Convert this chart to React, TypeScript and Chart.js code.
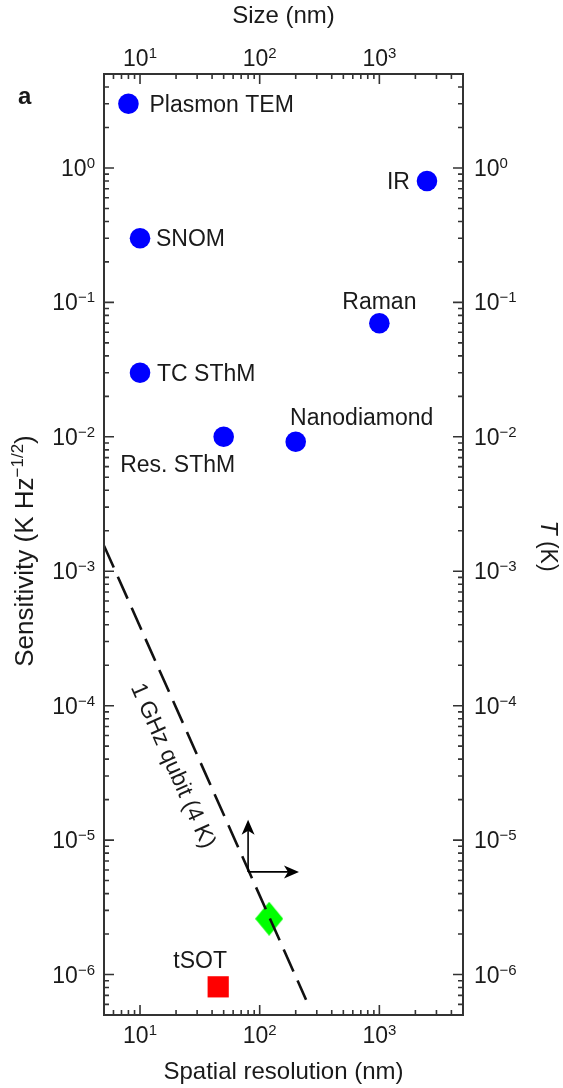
import React, { useEffect, useRef } from "react";
import { Chart, registerables } from "chart.js";

Chart.register(...registerables);

// ---- data ----
const circleLabels = ["Plasmon TEM", "SNOM", "TC SThM", "Res. SThM", "Nanodiamond", "Raman", "IR"];
const circleX = [8, 10, 10, 50, 200, 1000, 2500];
const circleY = [3, 0.3, 0.03, 0.01, 0.0092, 0.07, 0.8];

const diamondX = [120];
const diamondY = [2.6e-6];

const squareLabel = "tSOT";
const squareX = [45];
const squareY = [8.1e-7];

const qubitLabel = "1 GHz qubit (4 K)";
const qubitLineX = [5, 244];
const qubitLineY = [1.55e-3, 6.5e-7];
const qubitLabelAtX = 30;

const arrowOrigin = [80, 5.8e-6];
const arrowUpEnd = [80, 1.42e-5];
const arrowRightEnd = [213, 5.8e-6];

const xRange = [5, 5000];
const yRange = [5e-7, 5];
const xTickExps = [1, 2, 3];
const yTickExps = [0, -1, -2, -3, -4, -5, -6];

const panelLetter = "a";
const topTitle = "Size (nm)";
const bottomTitle = "Spatial resolution (nm)";
const leftTitleMain = "Sensitivity (K Hz";
const leftTitleSup = "\u22121/2";
const leftTitleEnd = ")";
const rightTitleItalic = "T";
const rightTitleRest = " (K)";

// ---- styling / placement ----
const FONT = "'Liberation Sans', Arial, Helvetica, sans-serif";
const TEXT = "#1a1a1a";
const AXIS = "#333333";

const labelPlacement: Record<string, { dx: number; dy: number; align: CanvasTextAlign }> = {
  "Plasmon TEM": { dx: 21, dy: 0, align: "left" },
  SNOM: { dx: 16, dy: 0, align: "left" },
  "TC SThM": { dx: 17, dy: 0, align: "left" },
  "Res. SThM": { dx: -46, dy: 27, align: "center" },
  Nanodiamond: { dx: 66, dy: -25, align: "center" },
  Raman: { dx: 0, dy: -22, align: "center" },
  IR: { dx: -17, dy: 0, align: "right" },
  tSOT: { dx: -18, dy: -27, align: "center" },
};

type Run = { text: string; size: number; rise?: number; style?: string };

function drawRuns(ctx: CanvasRenderingContext2D, runs: Run[], x: number, y: number, align: "left" | "center" | "right") {
  let total = 0;
  const widths: number[] = [];
  for (const r of runs) {
    ctx.font = `${r.style || ""} ${r.size}px ${FONT}`;
    const w = ctx.measureText(r.text).width;
    widths.push(w);
    total += w;
  }
  let cx = align === "left" ? x : align === "right" ? x - total : x - total / 2;
  ctx.textAlign = "left";
  ctx.textBaseline = "alphabetic";
  runs.forEach((r, i) => {
    ctx.font = `${r.style || ""} ${r.size}px ${FONT}`;
    ctx.fillText(r.text, cx, y - (r.rise || 0));
    cx += widths[i];
  });
}

function pow10Runs(e: number): Run[] {
  const s = e < 0 ? "\u2212" + Math.abs(e) : String(e);
  return [
    { text: "10", size: 23 },
    { text: s, size: 15, rise: 8 },
  ];
}

function makeDiamond(): HTMLCanvasElement {
  const c = document.createElement("canvas");
  c.width = 28;
  c.height = 34;
  const g = c.getContext("2d")!;
  g.fillStyle = "#00ff00";
  g.beginPath();
  g.moveTo(14, 0);
  g.lineTo(28, 17);
  g.lineTo(14, 34);
  g.lineTo(0, 17);
  g.closePath();
  g.fill();
  return c;
}

function arrow(ctx: CanvasRenderingContext2D, x0: number, y0: number, x1: number, y1: number) {
  const ang = Math.atan2(y1 - y0, x1 - x0);
  const L = 15, H = 6.5, N = 4;
  ctx.beginPath();
  ctx.moveTo(x0, y0);
  ctx.lineTo(x1 - Math.cos(ang) * (L - N), y1 - Math.sin(ang) * (L - N));
  ctx.stroke();
  ctx.save();
  ctx.translate(x1, y1);
  ctx.rotate(ang);
  ctx.beginPath();
  ctx.moveTo(0, 0);
  ctx.lineTo(-L, -H);
  ctx.lineTo(-L + N, 0);
  ctx.lineTo(-L, H);
  ctx.closePath();
  ctx.fill();
  ctx.restore();
}

const decorPlugin = {
  id: "decor",
  afterDraw(chart: any) {
    const ctx: CanvasRenderingContext2D = chart.ctx;
    const { left, right, top, bottom } = chart.chartArea;
    const xs = chart.scales.x;
    const ys = chart.scales.y;
    const xt = chart.scales.xTop;
    const yr = chart.scales.yRight;
    ctx.save();

    // frame
    ctx.strokeStyle = AXIS;
    ctx.lineWidth = 2;
    ctx.strokeRect(left, top, right - left, bottom - top);

    // ticks
    ctx.lineWidth = 1.6;
    ctx.beginPath();
    for (let e = -8; e <= 4; e++) {
      for (let m = 1; m <= 9; m++) {
        const v = m * Math.pow(10, e);
        const len = m === 1 ? 10 : 5;
        if (v > xRange[0] * 1.0001 && v < xRange[1] * 0.9999) {
          const px = xs.getPixelForValue(v);
          ctx.moveTo(px, bottom);
          ctx.lineTo(px, bottom - len);
          const pt = xt.getPixelForValue(v);
          ctx.moveTo(pt, top);
          ctx.lineTo(pt, top + len);
        }
        if (v > yRange[0] * 1.0001 && v < yRange[1] * 0.9999) {
          const py = ys.getPixelForValue(v);
          ctx.moveTo(left, py);
          ctx.lineTo(left + len, py);
          const pr = yr.getPixelForValue(v);
          ctx.moveTo(right, pr);
          ctx.lineTo(right - len, pr);
        }
      }
    }
    ctx.stroke();

    // tick labels
    ctx.fillStyle = TEXT;
    for (const e of xTickExps) {
      const v = Math.pow(10, e);
      drawRuns(ctx, pow10Runs(e), xs.getPixelForValue(v), bottom + 28, "center");
      drawRuns(ctx, pow10Runs(e), xt.getPixelForValue(v), top - 8, "center");
    }
    for (const e of yTickExps) {
      const v = Math.pow(10, e);
      drawRuns(ctx, pow10Runs(e), left - 9, ys.getPixelForValue(v) + 8, "right");
      drawRuns(ctx, pow10Runs(e), right + 11, yr.getPixelForValue(v) + 8, "left");
    }

    // axis titles
    const cxp = (left + right) / 2;
    drawRuns(ctx, [{ text: topTitle, size: 24 }], cxp, 23, "center");
    drawRuns(ctx, [{ text: bottomTitle, size: 24 }], cxp, 1079, "center");
    ctx.save();
    ctx.translate(33, 551);
    ctx.rotate(-Math.PI / 2);
    drawRuns(
      ctx,
      [
        { text: leftTitleMain, size: 26 },
        { text: leftTitleSup, size: 17, rise: 10 },
        { text: leftTitleEnd, size: 26 },
      ],
      0,
      0,
      "center"
    );
    ctx.restore();
    ctx.save();
    ctx.translate(541, 546);
    ctx.rotate(Math.PI / 2);
    drawRuns(
      ctx,
      [
        { text: rightTitleItalic, size: 23, style: "italic" },
        { text: rightTitleRest, size: 23 },
      ],
      0,
      0,
      "center"
    );
    ctx.restore();

    // panel letter
    drawRuns(ctx, [{ text: panelLetter, size: 24, style: "bold" }], 18, 104, "left");

    // point labels
    const allLabels = circleLabels.map((t, i) => ({ t, x: circleX[i], y: circleY[i] }));
    allLabels.push({ t: squareLabel, x: squareX[0], y: squareY[0] });
    for (const L of allLabels) {
      const p = labelPlacement[L.t];
      const px = xs.getPixelForValue(L.x) + p.dx;
      const py = ys.getPixelForValue(L.y) + p.dy;
      drawRuns(ctx, [{ text: L.t, size: 23 }], px, py + 8.2, p.align as any);
    }

    // qubit label along the dashed line
    const p1 = { x: xs.getPixelForValue(qubitLineX[0]), y: ys.getPixelForValue(qubitLineY[0]) };
    const p2 = { x: xs.getPixelForValue(qubitLineX[1]), y: ys.getPixelForValue(qubitLineY[1]) };
    const ang = Math.atan2(p2.y - p1.y, p2.x - p1.x);
    const ax = xs.getPixelForValue(qubitLabelAtX);
    const ay = p1.y + ((ax - p1.x) * (p2.y - p1.y)) / (p2.x - p1.x);
    ctx.save();
    ctx.translate(ax, ay);
    ctx.rotate(ang);
    ctx.font = `23px ${FONT}`;
    ctx.textAlign = "center";
    ctx.textBaseline = "middle";
    ctx.fillText(qubitLabel, 0, 27);
    ctx.restore();

    // arrows
    ctx.strokeStyle = "#000";
    ctx.fillStyle = "#000";
    ctx.lineWidth = 1.6;
    const ox = xs.getPixelForValue(arrowOrigin[0]);
    const oy = ys.getPixelForValue(arrowOrigin[1]);
    arrow(ctx, ox, oy, xs.getPixelForValue(arrowUpEnd[0]), ys.getPixelForValue(arrowUpEnd[1]));
    arrow(ctx, ox, oy, xs.getPixelForValue(arrowRightEnd[0]), ys.getPixelForValue(arrowRightEnd[1]));

    ctx.restore();
  },
};

export default function App() {
  const ref = useRef<HTMLCanvasElement>(null);
  useEffect(() => {
    document.body.style.margin = "0";
    const canvas = ref.current!;
    const diamond = makeDiamond();
    const chart = new Chart(canvas, {
      type: "scatter",
      data: {
        datasets: [
          {
            label: "line",
            data: qubitLineX.map((x, i) => ({ x, y: qubitLineY[i] })),
            showLine: true,
            borderColor: "#111111",
            borderWidth: 2.6,
            borderDash: [24, 10],
            pointRadius: 0,
            fill: false,
          } as any,
          {
            label: "circles",
            data: circleX.map((x, i) => ({ x, y: circleY[i] })),
            pointStyle: "circle",
            pointRadius: 10.3,
            backgroundColor: "#0000ff",
            borderWidth: 0,
          },
          {
            label: "diamond",
            data: diamondX.map((x, i) => ({ x, y: diamondY[i] })),
            pointStyle: diamond as any,
            pointRadius: 14,
          },
          {
            label: "tSOT",
            data: squareX.map((x, i) => ({ x, y: squareY[i] })),
            pointStyle: "rect",
            pointRadius: 15,
            backgroundColor: "#ff0000",
            borderWidth: 0,
          },
        ],
      },
      options: {
        animation: false,
        responsive: false,
        devicePixelRatio: 1,
        layout: { padding: { left: 104, right: 100, top: 74, bottom: 73 } },
        plugins: { legend: { display: false }, tooltip: { enabled: false } },
        events: [],
        scales: {
          x: { type: "logarithmic", min: xRange[0], max: xRange[1], display: false },
          y: { type: "logarithmic", min: yRange[0], max: yRange[1], display: false },
          xTop: { type: "logarithmic", position: "top", axis: "x", min: xRange[0], max: xRange[1], display: false },
          yRight: { type: "logarithmic", position: "right", axis: "y", min: yRange[0], max: yRange[1], display: false },
        } as any,
      },
      plugins: [decorPlugin],
    });
    return () => chart.destroy();
  }, []);
  return (
    <div style={{ width: 563, height: 1088, background: "#fff" }}>
      <canvas ref={ref} width={563} height={1088} style={{ display: "block" }} />
    </div>
  );
}
